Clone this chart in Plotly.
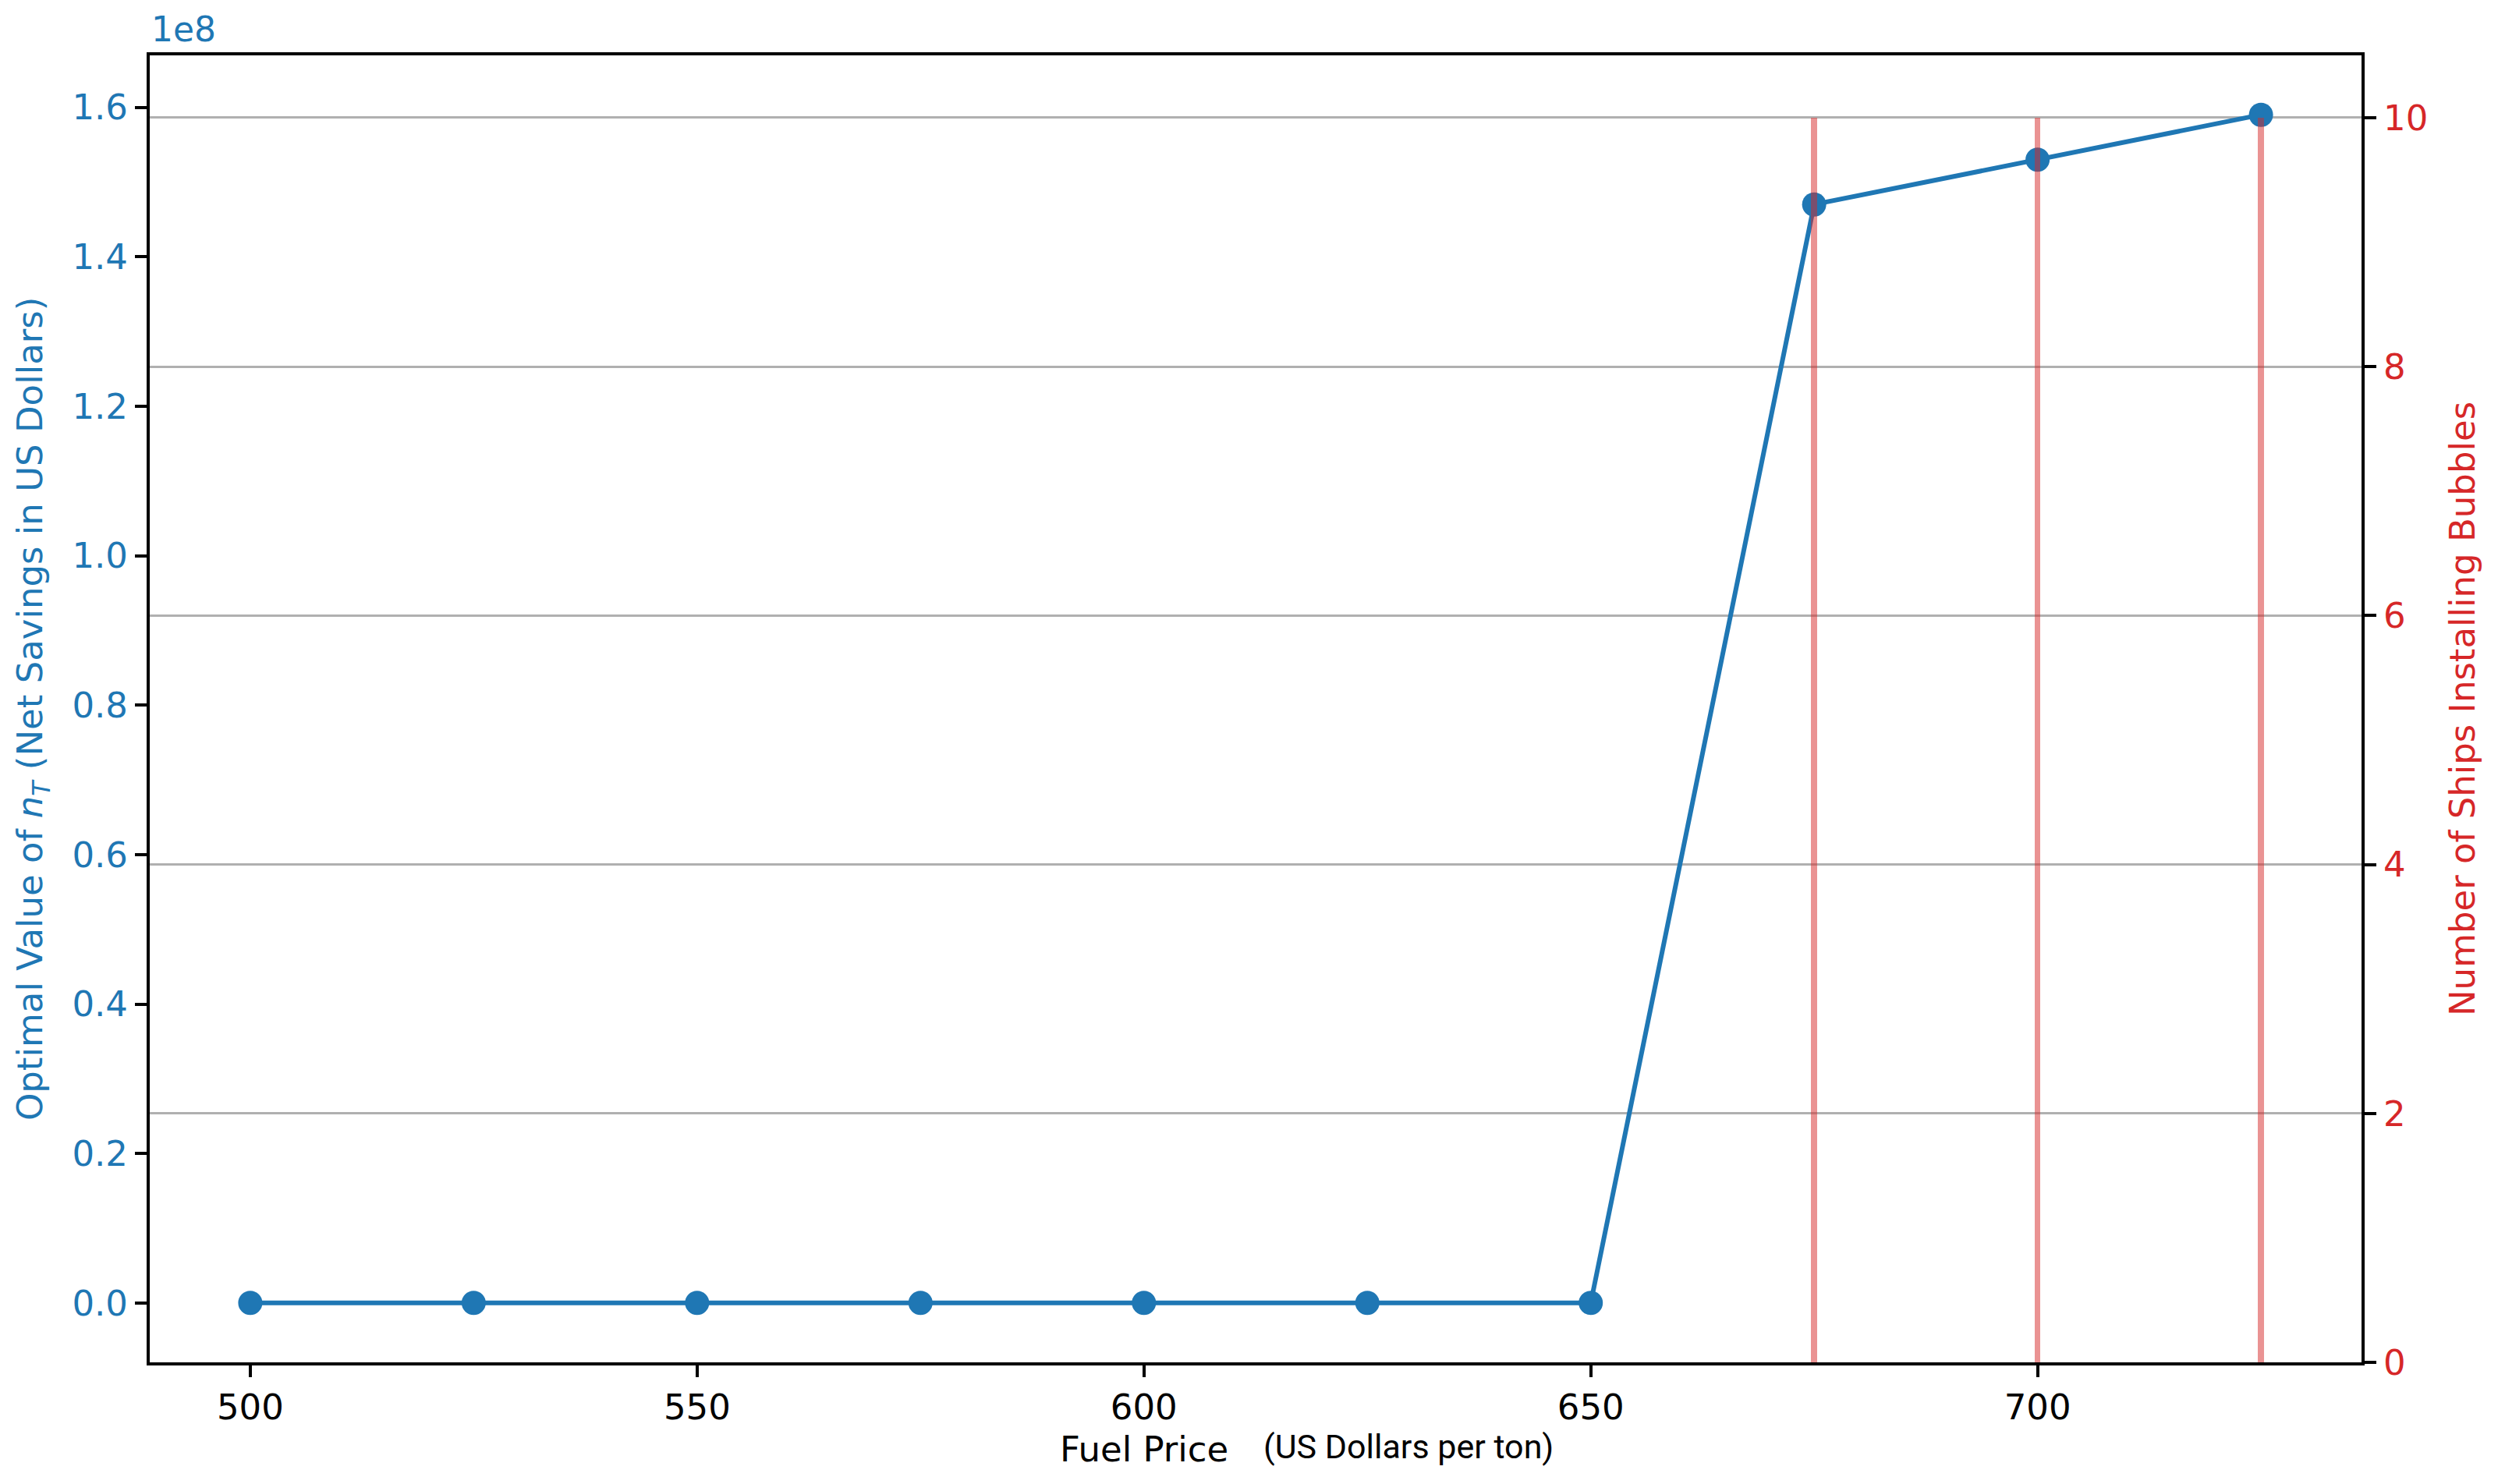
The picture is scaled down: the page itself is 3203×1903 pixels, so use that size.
import plotly.graph_objects as go

fuel_price = [500, 525, 550, 575, 600, 625, 650, 675, 700, 725]
net_savings = [0, 0, 0, 0, 0, 0, 0, 1.470e8, 1.530e8, 1.590e8]
ships_installing = [0, 0, 0, 0, 0, 0, 0, 10, 10, 10]

left_tickvals = [0, 0.2e8, 0.4e8, 0.6e8, 0.8e8, 1.0e8, 1.2e8, 1.4e8, 1.6e8]
left_ticktext = ["0.0", "0.2", "0.4", "0.6", "0.8", "1.0", "1.2", "1.4", "1.6"]
x_tickvals = [500, 550, 600, 650, 700]
right_tickvals = [0, 2, 4, 6, 8, 10]

BLUE = "#1f77b4"
RED = "#d62728"
FONT = "DejaVu Sans"

fig = go.Figure()
fig.add_trace(go.Scatter(
    x=fuel_price, y=net_savings, mode="lines+markers",
    line=dict(color=BLUE, width=6),
    marker=dict(color=BLUE, size=31),
    yaxis="y", showlegend=False,
))
fig.add_trace(go.Bar(
    x=fuel_price, y=ships_installing, width=0.65,
    marker=dict(color="rgba(214,39,40,0.5)", line=dict(width=0)),
    yaxis="y2", showlegend=False,
))

axis_common = dict(
    showline=True, linecolor="black", linewidth=4,
    ticks="outside", ticklen=15, tickwidth=4, tickcolor="black",
    zeroline=False,
)

fig.update_layout(
    width=3195, height=1895,
    margin=dict(l=184, r=175, t=63, b=156),
    plot_bgcolor="white", paper_bgcolor="white",
    font=dict(family=FONT, size=45, color="black"),
    xaxis=dict(
        range=[488.75, 736.25], tickvals=x_tickvals,
        showgrid=False, mirror=True,
        tickfont=dict(family=FONT, size=45, color="black"),
        **axis_common,
    ),
    yaxis=dict(
        range=[-0.0795e8, 1.6695e8], tickvals=left_tickvals, ticktext=left_ticktext,
        showgrid=False,
        tickfont=dict(family=FONT, size=45, color=BLUE),
        **axis_common,
    ),
    yaxis2=dict(
        range=[0, 10.5], tickvals=right_tickvals, overlaying="y", side="right",
        showgrid=True, gridcolor="#b0b0b0", gridwidth=3,
        tickfont=dict(family=FONT, size=45, color=RED),
        **axis_common,
    ),
    bargap=0,
)

fig.add_annotation(text="1e8", xref="paper", yref="paper", x=0, y=1,
                   xanchor="left", yanchor="bottom", yshift=6, showarrow=False,
                   font=dict(family=FONT, size=44, color=BLUE))
fig.add_annotation(text="Optimal Value of <i>n</i><sub><i>T</i></sub> (Net Savings in US Dollars)",
                   xref="paper", yref="paper", x=-0.0532, y=0.5, textangle=-90,
                   xanchor="center", yanchor="middle", showarrow=False,
                   font=dict(family=FONT, size=45, color=BLUE))
fig.add_annotation(text="Number of Ships Installing Bubbles",
                   xref="paper", yref="paper", x=1.0455, y=0.5, textangle=-90,
                   xanchor="center", yanchor="middle", showarrow=False,
                   font=dict(family=FONT, size=45, color=RED))
fig.add_annotation(text="Fuel Price", xref="paper", yref="paper", x=0.4496, y=-0.0668,
                   xanchor="center", yanchor="middle", showarrow=False,
                   font=dict(family=FONT, size=45, color="black"))
fig.add_annotation(text="(US Dollars per ton)", xref="paper", yref="paper", x=0.5690, y=-0.0644,
                   xanchor="center", yanchor="middle", showarrow=False,
                   font=dict(family="Roboto", size=43, color="black"))

fig.write_html("out.html")
